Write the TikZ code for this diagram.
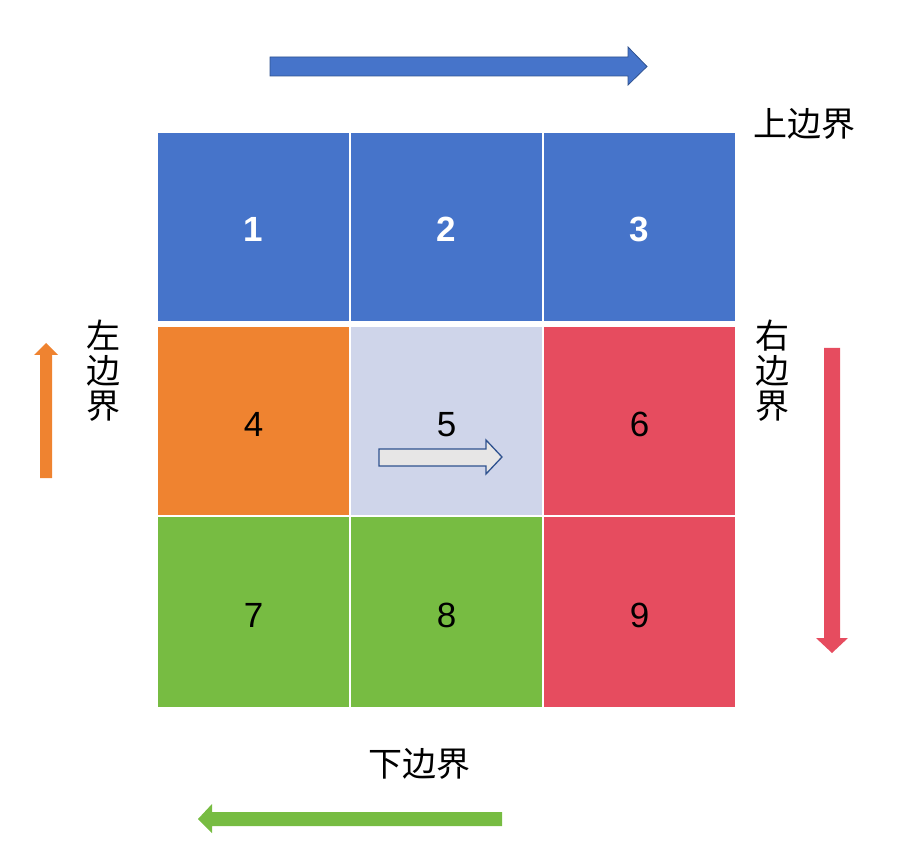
\documentclass[tikz,border=0pt]{standalone}
\usepackage{fontspec}
\setmainfont{Liberation Sans}
\newfontfamily\cjk{Noto Sans CJK SC}
\definecolor{cblue}{HTML}{4674CA}
\definecolor{cblueline}{HTML}{2F528F}
\definecolor{corange}{HTML}{EF8330}
\definecolor{cred}{HTML}{E64C5F}
\definecolor{cgreen}{HTML}{77BC42}
\definecolor{clight}{HTML}{CFD5EA}
\definecolor{cgray}{HTML}{E7E6E6}
\begin{document}
\begin{tikzpicture}[x=1pt,y=-1pt,
  cell/.style={inner sep=0pt, minimum width=191pt, text height=30pt, text depth=0pt, font=\fontsize{35}{36}\selectfont},
  toprow/.style={cell, minimum height=188pt, text=white, font=\fontsize{35}{36}\selectfont\bfseries},
  midrow/.style={cell, minimum height=188pt, text=black},
  botrow/.style={cell, minimum height=190pt, text=black},
  lbl/.style={inner sep=0pt, font=\cjk\fontsize{34}{35}\selectfont, align=center}]
\useasboundingbox (0,0) rectangle (908,850);
% grid cells
\node[toprow, fill=cblue] (c1) at (253.5,227) {1};
\node[toprow, fill=cblue] (c2) at (446.5,227) {2};
\node[toprow, fill=cblue] (c3) at (639.5,227) {3};
\node[midrow, fill=corange] (c4) at (253.5,421) {4};
\node[midrow, fill=clight] (c5) at (446.5,421) {5};
\node[midrow, fill=cred] (c6) at (639.5,421) {6};
\node[botrow, fill=cgreen] (c7) at (253.5,612) {7};
\node[botrow, fill=cgreen] (c8) at (446.5,612) {8};
\node[botrow, fill=cred] (c9) at (639.5,612) {9};
% labels
\node[lbl] (top) at (804,124) {上边界};
\node[lbl] (left) at (103,371) {左\\边\\界};
\node[lbl] (right) at (772,371) {右\\边\\界};
\node[lbl] (bottom) at (419,764) {下边界};
% top arrow
\fill[cblue, draw=cblueline, line width=0.8pt]
  (270,57) -- (628,57) -- (628,47) -- (647,66.5) -- (628,85) -- (628,76) -- (270,76) -- cycle;
% center arrow
\fill[cgray, draw=cblueline, line width=1.3pt]
  (379,449) -- (486,449) -- (486,440) -- (502,457) -- (486,474) -- (486,466) -- (379,466) -- cycle;
% left arrow
\fill[corange]
  (40,478) -- (40,355) -- (34,355) -- (46,343) -- (58,355) -- (52,355) -- (52,478) -- cycle;
% right arrow
\fill[cred]
  (824,348) -- (840,348) -- (840,638) -- (848,638) -- (832,653) -- (816,638) -- (824,638) -- cycle;
% bottom arrow
\fill[cgreen]
  (502,812) -- (212,812) -- (212,804) -- (198,819) -- (212,833) -- (212,826) -- (502,826) -- cycle;
\end{tikzpicture}
\end{document}
